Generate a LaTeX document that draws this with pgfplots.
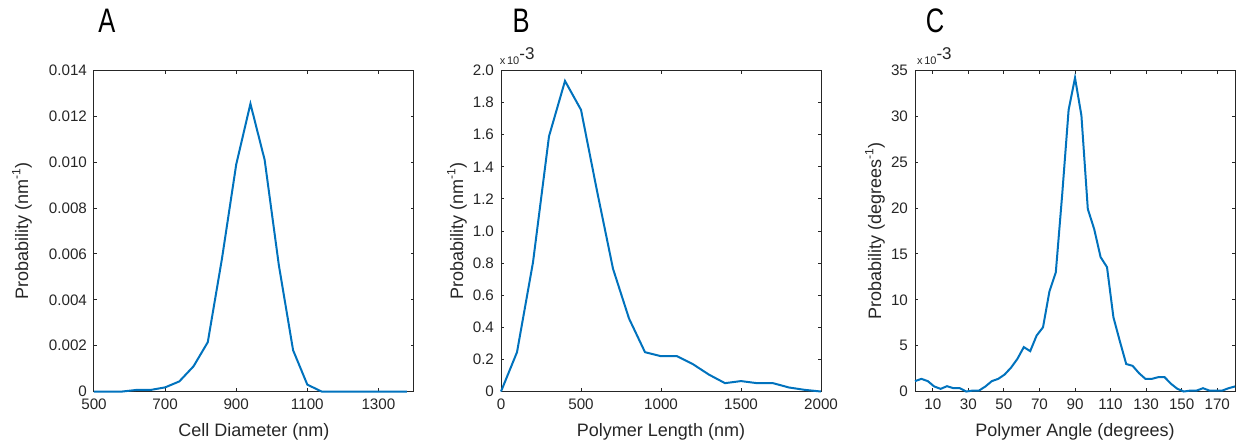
\documentclass[border=0pt]{standalone}
\usepackage{fontspec}
\setmainfont{Liberation Sans}
\usepackage{pgfplots}
\pgfplotsset{compat=1.18}
\definecolor{mblue}{rgb}{0,0.447,0.741}
\definecolor{maxis}{rgb}{0.15,0.15,0.15}
\pgfplotsset{mystyle/.style={
  scale only axis, width=160pt, height=160.5pt,
  axis line style={maxis, line width=0.5pt},
  every tick/.style={maxis, line width=0.5pt},
  major tick length=1.6pt,
  tick align=inside,
  xtick pos=both, ytick pos=both,
  scaled ticks=false,
  ticklabel style={font=\fontsize{7.6}{9}\selectfont, text=maxis},
  label style={font=\fontsize{9}{11}\selectfont, text=maxis},
  /pgf/number format/assume math mode=true,
  /pgf/number format/set thousands separator={},
  clip=false,
  xlabel style={at={(axis description cs:0.5,-0.125)}, anchor=center},
}}
\pgfplotstableread{
x y
500 0
540 0
580 0
620 0.00007
660 0.00007
700 0.00018
740 0.00044
780 0.0011
820 0.00215
860 0.0058
900 0.0099
940 0.01255
980 0.0101
1020 0.0055
1060 0.0018
1100 0.0003
1140 0
1180 0
1220 0
1260 0
1300 0
1340 0
1380 0
}\dataA
\pgfplotstableread{
x y
0 0
100 0.245
200 0.805
300 1.59
400 1.935
500 1.755
600 1.25
700 0.765
800 0.455
900 0.245
1000 0.22
1100 0.22
1200 0.17
1300 0.105
1400 0.052
1500 0.065
1600 0.052
1700 0.052
1800 0.025
1900 0.01
2000 0
}\dataB
\pgfplotstableread{
x y
0 1.13
3.6 1.38
7.2 1.13
10.8 0.55
14.4 0.29
18 0.58
21.6 0.36
25.2 0.36
28.8 0
32.4 0.1
36 0.1
39.6 0.55
43.2 1.13
46.8 1.38
50.4 1.85
54 2.6
57.6 3.56
61.2 4.84
64.8 4.4
68.4 6.1
72 7.0
75.6 10.9
79.2 13.0
82.8 21.5
86.4 30.7
90 34.2
93.6 30.1
97.2 19.9
100.8 17.7
104.4 14.65
108 13.56
111.6 8.1
115.2 5.5
118.8 3.0
122.4 2.8
126 2.0
129.6 1.38
133.2 1.38
136.8 1.56
140.4 1.56
144 0.84
147.6 0.29
151.2 0
154.8 0.1
158.4 0.1
162 0.36
165.6 0.1
169.2 0.1
172.8 0.1
176.4 0.36
180 0.55
}\dataC
\begin{document}
\begin{tikzpicture}
\useasboundingbox (0,0) rectangle (620.5pt,223pt);
% Panel A
\begin{axis}[mystyle, at={(47pt,27.25pt)}, anchor=south west,
  xmin=500, xmax=1400, ymin=0, ymax=0.014,
  xtick={500,700,900,1100,1300},
  ytick={0,0.002,0.004,0.006,0.008,0.010,0.012,0.014},
  yticklabels={0,0.002,0.004,0.006,0.008,0.010,0.012,0.014},
  xlabel={Cell Diameter (nm)},
  ylabel={Probability (nm\textsuperscript{-1})},
  ylabel style={at={(axis description cs:-0.225,0.5)}, anchor=center}]
\addplot[mblue, line width=1pt] table[x=x,y=y] {\dataA};
\end{axis}
% Panel B
\begin{axis}[mystyle, at={(250.5pt,27.25pt)}, anchor=south west,
  xmin=0, xmax=2000, ymin=0, ymax=2.0,
  xtick={0,500,1000,1500,2000},
  ytick={0,0.2,0.4,0.6,0.8,1.0,1.2,1.4,1.6,1.8,2.0},
  yticklabels={0,0.2,0.4,0.6,0.8,1.0,1.2,1.4,1.6,1.8,2.0},
  xlabel={Polymer Length (nm)},
  ylabel={Probability (nm\textsuperscript{-1})},
  ylabel style={at={(axis description cs:-0.1375,0.5)}, anchor=center}]
\addplot[mblue, line width=1pt] table[x=x,y=y] {\dataB};
\node[anchor=base west, inner sep=0, text=maxis] at (rel axis cs:-0.005,1.02) {{\fontsize{5.5}{6}\selectfont x\,10}\raisebox{2.5pt}{\fontsize{8.5}{9}\selectfont -3}};
\end{axis}
% Panel C
\begin{axis}[mystyle, at={(457.5pt,27.25pt)}, anchor=south west,
  xmin=0, xmax=180, ymin=0, ymax=35,
  xtick={10,30,50,70,90,110,130,150,170},
  ytick={0,5,10,15,20,25,30,35},
  xlabel={Polymer Angle (degrees)},
  ylabel={Probability (degrees\textsuperscript{-1})},
  ylabel style={at={(axis description cs:-0.125,0.5)}, anchor=center}]
\addplot[mblue, line width=1pt] table[x=x,y=y] {\dataC};
\node[anchor=base west, inner sep=0, text=maxis] at (rel axis cs:0.005,1.02) {{\fontsize{5.5}{6}\selectfont x\,10}\raisebox{2.5pt}{\fontsize{8.5}{9}\selectfont -3}};
\end{axis}
% Panel letters
\node[text=black] at (53.5pt,212.5pt) {\scalebox{0.75}[1]{\fontsize{17}{17}\selectfont A}};
\node[text=black] at (260.5pt,212.5pt) {\scalebox{0.75}[1]{\fontsize{17}{17}\selectfont B}};
\node[text=black] at (467.5pt,212.5pt) {\scalebox{0.75}[1]{\fontsize{17}{17}\selectfont C}};
\end{tikzpicture}
\end{document}
